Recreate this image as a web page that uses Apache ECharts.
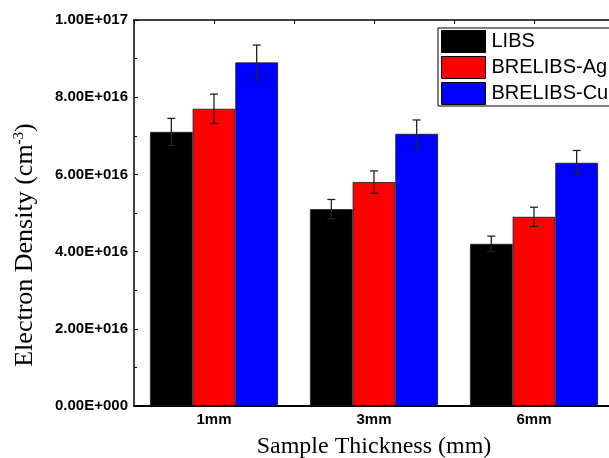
<!DOCTYPE html>
<html>
<head>
<meta charset="utf-8">
<script src="https://cdn.jsdelivr.net/npm/echarts@6/dist/echarts.min.js"></script>
<style>
  html, body { margin: 0; padding: 0; background: #fff; }
  #chart { width: 609px; height: 458px; }
</style>
</head>
<body>
<div id="chart"></div>
<script>
var categories = ['1mm', '3mm', '6mm'];
var seriesNames = ['LIBS', 'BRELIBS-Ag', 'BRELIBS-Cu'];
var colors = ['#000000', '#ff0000', '#0000ff'];
var libs = [7.1e16, 5.1e16, 4.2e16];
var brelibsAg = [7.7e16, 5.8e16, 4.9e16];
var brelibsCu = [8.9e16, 7.05e16, 6.3e16];
var libsErr = [0.35e16, 0.25e16, 0.2e16];
var brelibsAgErr = [0.38e16, 0.29e16, 0.25e16];
var brelibsCuErr = [0.45e16, 0.36e16, 0.32e16];

var values = [libs, brelibsAg, brelibsCu];
var errors = [libsErr, brelibsAgErr, brelibsCuErr];

function sci(v) {
  if (v === 0) return '0.00E+000';
  var e = Math.floor(Math.log10(v) + 1e-9);
  var m = v / Math.pow(10, e);
  return m.toFixed(2) + 'E+' + String(e).padStart(3, '0');
}

var series = [];
values.forEach(function (vals, i) {
  series.push({
    name: seriesNames[i],
    type: 'bar',
    data: vals,
    barGap: '0%',
    barCategoryGap: '20%',
    itemStyle: { color: colors[i], borderColor: '#1a1a1a', borderWidth: 0.8 }
  });
});

values.forEach(function (vals, i) {
  series.push({
    type: 'custom',
    silent: true,
    z: 10,
    data: vals.map(function (v, j) { return [j, v - errors[i][j], v + errors[i][j]]; }),
    renderItem: function (params, api) {
      var band = api.size([1, 0])[0];
      var barW = band * 0.8 / 3;
      var off = (i - 1) * barW;
      var lo = api.coord([api.value(0), api.value(1)]);
      var hi = api.coord([api.value(0), api.value(2)]);
      var x = lo[0] + off;
      var cap = 4;
      var st = { stroke: '#222', lineWidth: 1.3 };
      return {
        type: 'group',
        children: [
          { type: 'line', shape: { x1: x, y1: lo[1], x2: x, y2: hi[1] }, style: st },
          { type: 'line', shape: { x1: x - cap, y1: hi[1], x2: x + cap, y2: hi[1] }, style: st },
          { type: 'line', shape: { x1: x - cap, y1: lo[1], x2: x + cap, y2: lo[1] }, style: st }
        ]
      };
    }
  });
});

var serif = 'Liberation Serif, Times New Roman, serif';
var sans = 'Liberation Sans, Arial, sans-serif';

var chart = echarts.init(document.getElementById('chart'));
chart.setOption({
  animation: false,
  backgroundColor: '#fff',
  color: colors,
  grid: { left: 134, top: 20, width: 480, bottom: 52, containLabel: false, outerBoundsMode: 'none' },
  legend: {
    data: seriesNames,
    orient: 'vertical',
    left: 438,
    top: 28,
    itemWidth: 44,
    itemHeight: 22,
    itemGap: 3,
    padding: [2, 30, 1, 3],
    borderColor: '#000',
    borderWidth: 1,
    icon: 'rect',
    itemStyle: { borderColor: '#000', borderWidth: 1 },
    textStyle: { fontFamily: sans, fontSize: 20, color: '#000', padding: [0, 0, 0, 1] }
  },
  graphic: [{
    type: 'text',
    x: 25,
    y: 245,
    rotation: Math.PI / 2,
    style: {
      text: '{a|Electron Density (cm}{s|-3}{a|)}',
      textAlign: 'center',
      textVerticalAlign: 'middle',
      rich: {
        a: { fontFamily: serif, fontSize: 26, fill: '#000', color: '#000' },
        s: { fontFamily: serif, fontSize: 15, fill: '#000', color: '#000', verticalAlign: 'top', padding: [0, 0, 11, 0] }
      }
    }
  }],
  xAxis: [{
    type: 'category',
    data: categories,
    position: 'bottom',
    name: 'Sample Thickness (mm)',
    nameLocation: 'middle',
    nameGap: 29,
    nameTextStyle: { fontFamily: serif, fontSize: 24, color: '#000' },
    axisLine: { lineStyle: { color: '#000', width: 2 } },
    axisTick: { show: false },
    axisLabel: { color: '#000', fontWeight: 'bold', fontSize: 15, fontFamily: sans, margin: 6 },
    splitLine: { show: false }
  }, {
    type: 'value',
    position: 'top',
    min: 0,
    max: 6,
    interval: 1,
    axisLine: { lineStyle: { color: '#000', width: 1.5 } },
    axisTick: { inside: true, length: 4, lineStyle: { color: '#000' } },
    axisLabel: { show: false },
    splitLine: { show: false }
  }],
  yAxis: {
    type: 'value',
    min: 0,
    max: 1e17,
    interval: 2e16,
    axisLine: { show: true, lineStyle: { color: '#000', width: 1.5 } },
    axisTick: { show: true, inside: true, length: 4, lineStyle: { color: '#000' } },
    minorTick: { show: true, splitNumber: 2, length: 3, lineStyle: { color: '#000' } },
    axisLabel: {
      color: '#000', fontWeight: 'bold', fontSize: 15, fontFamily: sans, margin: 6,
      formatter: sci
    },
    splitLine: { show: false }
  },
  series: series
});
</script>
</body>
</html>
